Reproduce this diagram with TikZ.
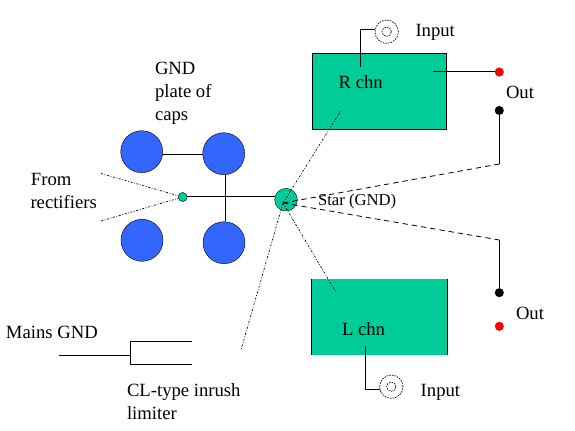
\documentclass[tikz,border=0pt]{standalone}
\usepackage{fontspec}
\setmainfont{Liberation Serif}
\definecolor{boxgreen}{HTML}{00CC99}
\definecolor{capblue}{HTML}{3366FF}
\tikzset{
  x=0.75pt,y=-0.75pt,
  wire/.style={draw=black,line width=0.75pt},
  dotwire/.style={draw=black,line width=0.5pt,dash pattern=on 1.6pt off 1.2pt on 0.6pt off 1.2pt},
  dashwire/.style={draw=black,line width=0.6pt,dash pattern=on 4pt off 3pt},
  txt/.style={anchor=base west,inner sep=0pt,outer sep=0pt,font=\fontsize{14pt}{16pt}\selectfont},
  chbox/.style={fill=boxgreen,draw=none,inner sep=0pt,minimum width=100.9pt,minimum height=57pt},
  capdisc/.style={circle,fill=capblue,draw=black,line width=0.3pt,inner sep=0pt,minimum size=31.5pt},
  pindot/.style={circle,fill=#1,draw=none,inner sep=0pt,minimum size=6.8pt},
  jackring/.style={circle,draw=black,line width=0.5pt,dash pattern=on 1.2pt off 0.8pt,inner sep=0pt,minimum size=#1},
}
\begin{document}
\begin{tikzpicture}
\useasboundingbox (0,0) rectangle (575,431);
% channel boxes
\node[chbox,draw=black,line width=0.75pt] (rbox) at (379.5,91.3) {};
\node[chbox] (lbox) at (379.5,317.2) {};
\draw[wire] (lbox.north west) -- (lbox.south west);
\draw[wire] (lbox.north east) -- (lbox.south east);
% capacitors
\node[capdisc] (c1) at (141.7,151.7) {};
\node[capdisc] (c2) at (223.7,153.7) {};
\node[capdisc] (c3) at (142,240.3) {};
\node[capdisc] (c4) at (224,242.7) {};
% junctions
\node[circle,fill=boxgreen,draw=black,line width=0.3pt,inner sep=0pt,minimum size=6.8pt] (small) at (182.7,197) {};
\node[circle,fill=boxgreen,draw=black,line width=0.3pt,inner sep=0pt,minimum size=17pt] (star) at (286,199.7) {};
\coordinate (sc) at (283,203);
% wires around caps
\coordinate (h1) at (162,154.3);
\coordinate (h2) at (203,154.3);
\coordinate (v1) at (225.5,175);
\coordinate (v2) at (225.5,221.5);
\coordinate (sw) at (274.7,197);
\draw[wire] (h1) -- (h2);
\draw[wire] (v1) -- (v2);
\draw[wire] (small) -- (sw);
% from rectifiers
\coordinate (ra) at (101,173.5);
\coordinate (rb) at (101,221);
\draw[dotwire] (ra) -- (small);
\draw[dotwire] (rb) -- (small);
% star lines
\coordinate (rin) at (340.7,111);
\coordinate (lin) at (335.7,291.7);
\coordinate (cl) at (241,350);
\coordinate (o1) at (499.3,164);
\coordinate (o2) at (499.3,240);
\draw[dotwire] (sc) -- (rin);
\draw[dotwire] (sc) -- (lin);
\draw[dotwire] (sc) -- (cl);
\draw[dashwire] (sc) -- (o1);
\draw[dashwire] (sc) -- (o2);
% outputs
\node[pindot=red] (or1) at (499.3,72) {};
\node[pindot=black] (ob1) at (499.3,110.5) {};
\node[pindot=black] (ob2) at (499.3,292.7) {};
\node[pindot=red] (or2) at (499.3,326.3) {};
\coordinate (rout) at (433,72);
\draw[wire] (rout) -- (or1);
\draw[wire] (ob1) -- (o1);
\draw[wire] (o2) -- (ob2);
% inputs
\node[jackring=17.5pt] (j1) at (386.7,31.7) {};
\node[jackring=7pt] (j1i) at (386.7,31.7) {};
\node[jackring=17.5pt] (j2) at (391.3,386.7) {};
\node[jackring=7pt] (j2i) at (391.3,386.7) {};
\coordinate (rj) at (360.5,67.5);
\coordinate (lj) at (365.5,346);
\draw[wire] (rj) -- (360.5,29.3) -- (375,29.3);
\draw[wire] (lj) -- (365.5,389) -- (380,389);
% mains
\coordinate (m0) at (59,355.3);
\coordinate (m1) at (130.3,355.3);
\coordinate (m2) at (192,341.3);
\coordinate (m3) at (192,364.3);
\draw[wire] (m0) -- (m1);
\draw[wire] (m2) -- (130.3,341.3) -- (130.3,364.3) -- (m3);
% text
\node[txt] (t1) at (415.5,37) {Input};
\node[txt] (t2) at (420.7,396.7) {Input};
\node[txt] (t3) at (338.7,89) {R chn};
\node[txt] (t4) at (342,335) {L chn};
\node[txt] (t5) at (506,99) {Out};
\node[txt] (t6) at (516,319) {Out};
\node[txt,font=\fontsize{12.5pt}{14pt}\selectfont] (t7) at (318,205) {Star (GND)};
\node[txt] (t8) at (155,75) {GND};
\node[txt] (t9) at (155,98) {plate of};
\node[txt] (t10) at (155,121) {caps};
\node[txt] (t11) at (31,185.3) {From};
\node[txt] (t12) at (30.5,208.7) {rectifiers};
\node[txt] (t13) at (6,338) {Mains GND};
\node[txt] (t14) at (127,396.7) {CL-type inrush};
\node[txt] (t15) at (127,419) {limiter};
\end{tikzpicture}
\end{document}
